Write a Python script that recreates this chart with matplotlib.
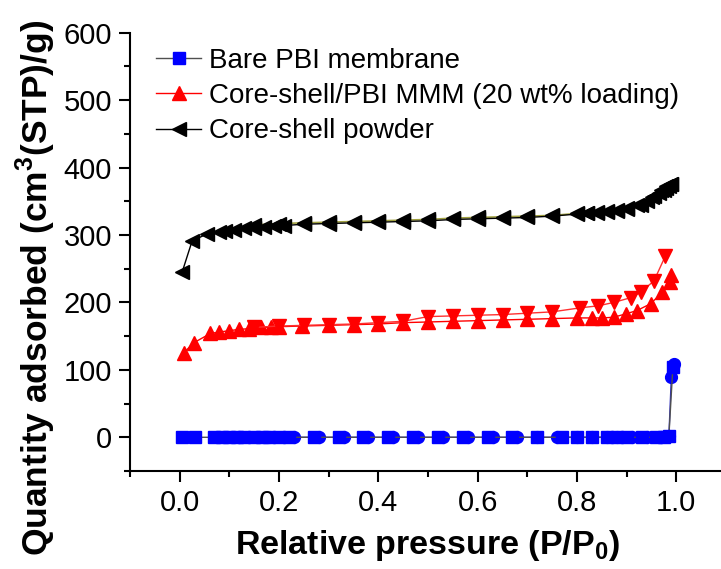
import matplotlib
matplotlib.use("Agg")
import matplotlib.pyplot as plt
from matplotlib.ticker import MultipleLocator

plt.rcParams['font.family'] = ['Liberation Sans', 'DejaVu Sans']
plt.rcParams['mathtext.fontset'] = 'custom'
plt.rcParams['mathtext.rm'] = 'Liberation Sans'
plt.rcParams['mathtext.bf'] = 'Liberation Sans:bold'

# ---- data ----
# Bare PBI membrane
pbi_ads_x = [0.005, 0.03, 0.07, 0.085, 0.1, 0.115, 0.13, 0.15, 0.165, 0.18, 0.2, 0.22,
             0.27, 0.32, 0.37, 0.42, 0.47, 0.52, 0.57, 0.62, 0.67, 0.72, 0.77, 0.8,
             0.83, 0.86, 0.88, 0.9, 0.93, 0.96, 0.975, 0.985, 0.993]
pbi_ads_y = [0, 0, 0, 0, 0, 0, 0, 0, 0, 0, 0, 0,
             0, 0, 0, 0, 0, 0, 0, 0, 0, 0, 0, 0,
             0, 0, 0, 0, 0, 0, 1, 2, 104]
pbi_des_x = [0.996, 0.99, 0.985, 0.97, 0.94, 0.91, 0.88, 0.86, 0.83, 0.8, 0.76, 0.72,
             0.68, 0.63, 0.58, 0.53, 0.48, 0.43, 0.38, 0.33, 0.28, 0.23, 0.18, 0.12]
pbi_des_y = [108, 90, 2, 0, 0, 0, 0, 0, 0, 0, 0, 0,
             0, 0, 0, 0, 0, 0, 0, 0, 0, 0, 0, 0]

# Core-shell/PBI MMM (20 wt% loading)
mmm_ads_x = [0.008, 0.028, 0.062, 0.079, 0.099, 0.119, 0.139, 0.163, 0.183, 0.2, 0.246,
             0.3, 0.35, 0.4, 0.45, 0.5, 0.55, 0.6, 0.65, 0.7, 0.75, 0.8, 0.83, 0.85,
             0.874, 0.898, 0.921, 0.948, 0.972, 0.987, 0.99]
mmm_ads_y = [125, 140, 154, 156, 158, 160, 161, 163, 163, 164, 165,
             166, 167, 168, 170, 171, 172, 173, 174, 175, 176, 177, 177, 177,
             178, 183, 188, 198, 215, 230, 240]
mmm_des_x = [0.978, 0.955, 0.928, 0.908, 0.874, 0.843, 0.807, 0.75, 0.7, 0.65, 0.6,
             0.55, 0.5, 0.45, 0.4, 0.35, 0.3, 0.25, 0.2, 0.15]
mmm_des_y = [269, 232, 215, 207, 200, 195, 192, 186, 184, 182, 181,
             180, 179, 172, 170, 168, 167, 166, 165, 163]

# Core-shell powder
cs_ads_x = [0.005, 0.025, 0.056, 0.079, 0.092, 0.11, 0.13, 0.15, 0.17, 0.19, 0.21, 0.25,
            0.3, 0.35, 0.4, 0.45, 0.5, 0.55, 0.6, 0.65, 0.7, 0.75, 0.8, 0.82, 0.84,
            0.86, 0.88, 0.9, 0.928, 0.951, 0.965, 0.975, 0.98, 0.985, 0.99]
cs_ads_y = [245, 291, 302, 304, 306, 308, 310, 311, 312, 313, 314, 316,
            317, 318, 319, 320, 321, 323, 324, 325, 326, 328, 331, 332, 333,
            334, 336, 339, 344, 356, 362, 366, 370, 372, 375]
cs_des_x = [0.99, 0.98, 0.97, 0.955, 0.94, 0.92, 0.9, 0.88, 0.86, 0.84, 0.82, 0.8,
            0.75, 0.7, 0.65, 0.6, 0.55, 0.5, 0.45, 0.4, 0.35, 0.3, 0.25, 0.2, 0.15]
cs_des_y = [376, 372, 366, 358, 350, 344, 340, 337, 335, 334, 333, 332,
            329, 328, 327, 326, 325, 323, 322, 321, 320, 319, 318, 317, 315]

labels = ['Bare PBI membrane', 'Core-shell/PBI MMM (20 wt% loading)', 'Core-shell powder']
xticks = [0.0, 0.2, 0.4, 0.6, 0.8, 1.0]
xticklabels = ['0.0', '0.2', '0.4', '0.6', '0.8', '1.0']
yticks = [0, 100, 200, 300, 400, 500, 600]

fig = plt.figure(figsize=(7.21, 5.69), dpi=100)
ax = fig.add_axes([130/721, 98/569, 596/721, 438.3/569])

ms = 9.5
# Bare PBI
ax.plot(pbi_des_x, pbi_des_y, color='#3030c0', lw=1.0, marker='o', ms=8.5,
        mfc='#0000ff', mec='#0000ff', zorder=3)
ax.plot(pbi_ads_x, pbi_ads_y, color='#505050', lw=1.0, marker='s', ms=8,
        mfc='#0000ff', mec='#0000ff', zorder=3, label=labels[0])
# MMM
ax.plot(mmm_ads_x, mmm_ads_y, color='#ff0000', lw=1.0, marker='^', ms=ms,
        mfc='#ff0000', mec='#ff0000', zorder=3, label=labels[1])
ax.plot(mmm_des_x, mmm_des_y, color='#ff3030', lw=1.0, marker='v', ms=ms,
        mfc='#ff0000', mec='#ff0000', zorder=3)
# Core-shell powder
ax.plot(cs_des_x, cs_des_y, color='#a0a040', lw=1.2, marker='<', ms=ms,
        mfc='black', mec='black', zorder=3)
ax.plot(cs_ads_x, cs_ads_y, color='black', lw=1.0, marker='<', ms=ms,
        mfc='black', mec='black', zorder=3, label=labels[2])

ax.set_xlim(-0.1, 1.1)
ax.set_ylim(-50, 600)
ax.xaxis.set_minor_locator(MultipleLocator(0.1))
ax.yaxis.set_minor_locator(MultipleLocator(50))
ax.spines['top'].set_visible(False)
ax.spines['right'].set_visible(False)
for s in ('left', 'bottom'):
    ax.spines[s].set_linewidth(1.5)
ax.tick_params(which='major', direction='out', length=8, width=1.5, labelsize=21, pad=5)
ax.tick_params(which='minor', direction='out', length=4.5, width=1.5)
ax.set_yticks(yticks)
ax.set_xticks(xticks)
ax.set_xticklabels(xticklabels)

ax.set_xlabel(r'Relative pressure (P/P$_\mathbf{0}$)', fontsize=24.5, fontweight='bold', labelpad=8)
fig.text(36/721, 1 - 288/569, r'Quantity adsorbed (cm$^\mathbf{3}$(STP)/g)', fontsize=25.5,
         fontweight='bold', rotation=90, ha='center', va='center')

leg = ax.legend(loc='upper left', bbox_to_anchor=(0.035, 0.978), frameon=False, fontsize=20,
                handlelength=1.6, handletextpad=0.3, labelspacing=0.33, borderaxespad=0,
                borderpad=0.2)

fig.savefig('out.png', dpi=100)
